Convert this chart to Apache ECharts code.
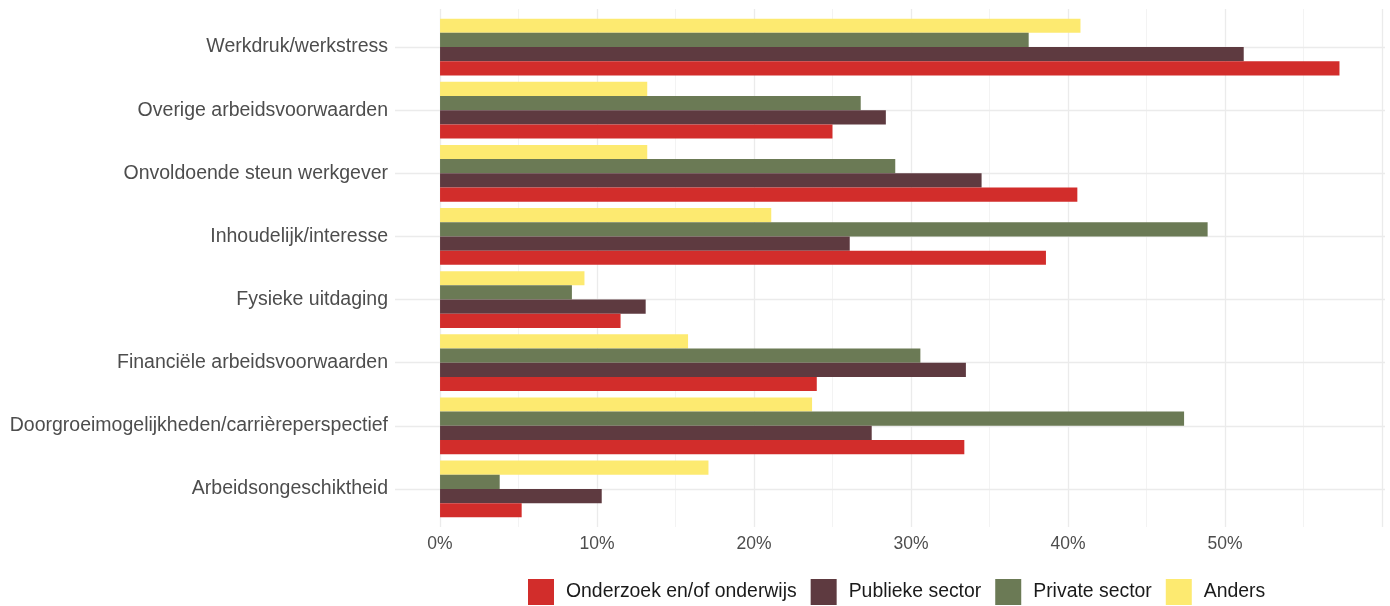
<!DOCTYPE html>
<html><head><meta charset="utf-8">
<script src="https://cdn.jsdelivr.net/npm/echarts@6/dist/echarts.min.js"></script>
<style>html,body{margin:0;padding:0;background:#fff}#c{width:1390px;height:606px}</style>
</head><body><div id="c"></div>
<script>
const categories = ["Arbeidsongeschiktheid","Doorgroeimogelijkheden/carrièreperspectief","Financiële arbeidsvoorwaarden","Fysieke uitdaging","Inhoudelijk/interesse","Onvoldoende steun werkgever","Overige arbeidsvoorwaarden","Werkdruk/werkstress"];
const seriesNames = ["Onderzoek en/of onderwijs","Publieke sector","Private sector","Anders"];
const onderzoek = [5.2, 33.4, 24.0, 11.5, 38.6, 40.6, 25.0, 57.3];
const publiek   = [10.3, 27.5, 33.5, 13.1, 26.1, 34.5, 28.4, 51.2];
const privaat   = [3.8, 47.4, 30.6, 8.4, 48.9, 29.0, 26.8, 37.5];
const anders    = [17.1, 23.7, 15.8, 9.2, 21.1, 13.2, 13.2, 40.8];
const colors = ["#d22d2b","#5e3a40","#6b7a55","#fdea70"];
const allData = [onderzoek, publiek, privaat, anders];
const xMin = -2.87, xMax = 60.2;

const FONT = 'Liberation Sans, Arial, sans-serif';
const chart = echarts.init(document.getElementById('c'));
const barSeries = [3,2,1,0].map(i=>({
  name:seriesNames[i], type:'bar', data:allData[i],
  xAxisIndex:0, yAxisIndex:0,
  barGap:'0%', barCategoryGap:'10%', z:3,
  itemStyle:{color:colors[i]}
}));
chart.setOption({
  animation:false,
  textStyle:{fontFamily:FONT},
  grid:[
    {left:395, width:990, top:15.5, height:505},
    {left:440, width:942, top:9, height:518}
  ],
  legend:{
    bottom:1, left:528, padding:0, itemWidth:26, itemHeight:26, itemGap:14,
    icon:'rect',
    textStyle:{fontSize:19.4, color:'#1a1a1a', padding:[0,0,0,7], fontFamily:FONT},
    data:seriesNames
  },
  xAxis:[
    {gridIndex:0, type:'value', min:xMin, max:xMax, show:false, splitLine:{show:false}},
    {gridIndex:1, type:'value', min:0, max:60, interval:10,
      axisLine:{show:false}, axisTick:{show:false},
      axisLabel:{fontSize:17.5, color:'#4d4d4d', margin:8,
        formatter:v => (v<60) ? v+'%' : ''},
      splitLine:{lineStyle:{color:'#ebebeb', width:1.3}},
      minorTick:{show:false, splitNumber:2},
      minorSplitLine:{show:true, lineStyle:{color:'#f0f0f0', width:0.8}}
    }
  ],
  yAxis:[
    {gridIndex:0, type:'category', data:categories,
      axisLine:{show:false}, axisTick:{show:false},
      axisLabel:{fontSize:19.5, color:'#4d4d4d', margin:7},
      splitLine:{show:false}},
    {gridIndex:1, type:'value', min:0, max:1, show:false, splitLine:{show:false}}
  ],
  series: barSeries.concat([
    {type:'line', xAxisIndex:1, yAxisIndex:1, data:[], silent:true},
    {type:'line', xAxisIndex:0, yAxisIndex:0, data:categories.map(()=>null), symbol:'none', silent:true, z:1,
      markLine:{symbol:'none', silent:true, label:{show:false}, z:1,
        lineStyle:{color:'#ebebeb', type:'solid', width:1.3},
        data:categories.map(c=>[{xAxis:xMin, yAxis:c},{xAxis:xMax, yAxis:c}])}
    }
  ])
});
</script></body></html>
